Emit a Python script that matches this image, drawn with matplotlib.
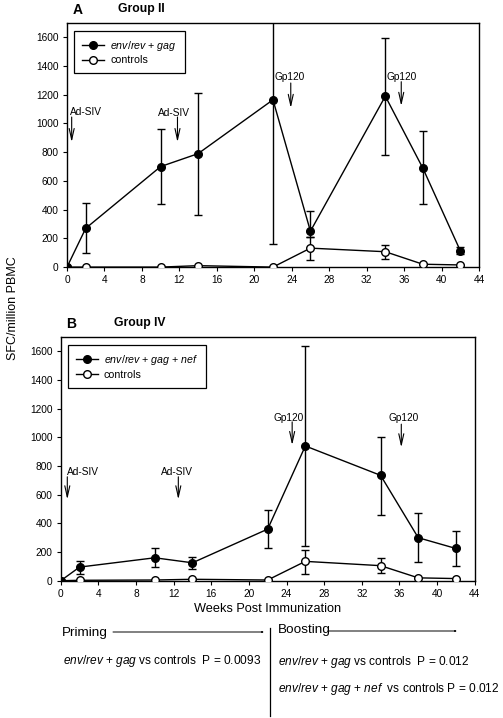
import matplotlib

matplotlib.use("Agg")
import matplotlib.pyplot as plt
from matplotlib.lines import Line2D
from matplotlib.patches import FancyArrowPatch
import numpy as np

plt.rcParams["font.family"] = ["Liberation Sans", "DejaVu Sans"]
plt.rcParams["mathtext.fontset"] = "custom"
plt.rcParams["mathtext.it"] = "Liberation Sans:italic"
plt.rcParams["mathtext.rm"] = "Liberation Sans"

# --- data -----------------------------------------------------------------
weeks = [0, 2, 10, 14, 22, 26, 34, 38, 42]

# Group II
g2_vax = [0, 270, 700, 790, 1165, 250, 1190, 690, 115]
g2_vax_lo = [0, 95, 440, 365, 160, 213, 780, 440, 90]
g2_vax_hi = [0, 445, 960, 1215, 2300, 388, 1595, 945, 142]
g2_ctl = [0, 0, 0, 10, 0, 132, 107, 20, 15]
g2_ctl_lo = [0, 0, 0, 10, 0, 50, 55, 20, 15]
g2_ctl_hi = [0, 0, 0, 10, 0, 213, 155, 20, 15]

# Group IV
g4_vax = [0, 95, 160, 125, 360, 940, 735, 300, 225]
g4_vax_lo = [0, 50, 95, 85, 225, 240, 455, 130, 100]
g4_vax_hi = [0, 135, 225, 165, 490, 1635, 1005, 470, 350]
g4_ctl = [0, 3, 5, 10, 5, 135, 105, 20, 15]
g4_ctl_lo = [0, 3, 5, 10, 5, 50, 55, 20, 15]
g4_ctl_hi = [0, 3, 5, 10, 5, 215, 160, 20, 15]

event_labels = ["Ad-SIV", "Ad-SIV", "Gp120", "Gp120"]
g2_event_weeks = [0.5, 11.8, 23.9, 35.7]
g4_event_weeks = [0.7, 12.5, 24.6, 36.2]

FS = 7.3


def panel(ax, vax, vlo, vhi, ctl, clo, chi, vax_label):
    vax = np.asarray(vax, float)
    ctl = np.asarray(ctl, float)
    verr = [vax - np.asarray(vlo), np.asarray(vhi) - vax]
    cerr = [ctl - np.asarray(clo), np.asarray(chi) - ctl]
    ax.errorbar(weeks, ctl, yerr=cerr, fmt="-o", color="black", mfc="white",
                mec="black", ms=5.5, lw=1.0, elinewidth=1.0, capsize=3,
                capthick=1.0, zorder=3)
    ax.errorbar(weeks, vax, yerr=verr, fmt="-o", color="black", mfc="black",
                ms=5.5, lw=1.0, elinewidth=1.0, capsize=3, capthick=1.0,
                zorder=4)
    ax.set_xlim(0, 44)
    ax.set_ylim(0, 1700)
    ax.set_xticks(np.arange(0, 45, 4))
    ax.set_yticks(np.arange(0, 1601, 200))
    ax.tick_params(direction="out", length=3, labelsize=FS, width=0.8, pad=3)
    for s in ax.spines.values():
        s.set_linewidth(1.0)
    handles = [
        Line2D([], [], color="black", marker="o", mfc="black", ms=5.5, lw=1.0),
        Line2D([], [], color="black", marker="o", mfc="white", ms=5.5, lw=1.0),
    ]
    leg = ax.legend(handles, [vax_label, "controls"], loc="upper left",
                    fontsize=7.7, fancybox=False, edgecolor="black",
                    framealpha=1, handlelength=2.0, handletextpad=0.6,
                    borderpad=0.75, labelspacing=0.25,
                    bbox_to_anchor=(0.005, 0.99))
    leg.get_frame().set_linewidth(0.9)


def events(ax, xs, text_x, text_y, tails, tips, has):
    for lab, w, tx, ty, yt, yp, ha in zip(event_labels, xs, text_x, text_y,
                                          tails, tips, has):
        ax.text(tx, ty, lab, fontsize=FS, ha=ha, va="center")
        ax.annotate("", xy=(w, yp), xytext=(w, yt),
                    arrowprops=dict(arrowstyle="->,head_length=0.8,head_width=0.18",
                                    lw=0.8, color="black", shrinkA=0, shrinkB=0))


fig = plt.figure(figsize=(5.03, 7.18), dpi=100)

vax2 = r"$\it{env/rev}$ + $\it{gag}$"
vax4 = r"$\it{env/rev}$ + $\it{gag}$ + $\it{nef}$"

ax1 = fig.add_axes([0.1332, 0.628, 0.819, 0.340])
panel(ax1, g2_vax, g2_vax_lo, g2_vax_hi, g2_ctl, g2_ctl_lo, g2_ctl_hi, vax2)
events(ax1, g2_event_weeks,
       [0.3, 11.4, 23.76, 35.7], [1078, 1075, 1322, 1327],
       [1045, 1045, 1282, 1291], [870, 870, 1108, 1122],
       ["left", "center", "center", "center"])

ax2 = fig.add_axes([0.1207, 0.1912, 0.823, 0.3394])
panel(ax2, g4_vax, g4_vax_lo, g4_vax_hi, g4_ctl, g4_ctl_lo, g4_ctl_hi, vax4)
events(ax2, g4_event_weeks,
       [0.64, 12.41, 24.19, 36.45], [760, 760, 1134, 1132],
       [725, 725, 1108, 1092], [567, 567, 946, 930],
       ["left", "center", "center", "center"])
ax2.set_xlabel("Weeks Post Immunization", fontsize=9.2, labelpad=3)

# panel titles
fig.text(73 / 503, 1 - 10 / 718, "A", fontsize=10, fontweight="bold", va="center")
fig.text(118 / 503, 1 - 9 / 718, "Group II", fontsize=8.7, fontweight="bold", va="center")
fig.text(66 / 503, 1 - 324 / 718, "B", fontsize=10, fontweight="bold", va="center")
fig.text(114 / 503, 1 - 323 / 718, "Group IV", fontsize=8.7, fontweight="bold", va="center")

fig.text(13 / 503, 1 - 308 / 718, "SFC/million PBMC", fontsize=9,
         rotation=90, ha="center", va="center")


# priming / boosting footer
def fy(py):
    return 1 - py / 718


def fx(px):
    return px / 503


fig.text(fx(62), fy(633), "Priming", fontsize=9.7, va="center")
fig.text(fx(278), fy(630), "Boosting", fontsize=9.7, va="center")
arrow = dict(arrowstyle="->,head_length=0.9,head_width=0.2", lw=0.7, color="black",
             shrinkA=0, shrinkB=0)
fig.add_artist(FancyArrowPatch((fx(113), fy(632)), (fx(265), fy(632)),
                               transform=fig.transFigure, **arrow))
fig.add_artist(FancyArrowPatch((fx(328), fy(631)), (fx(458), fy(631)),
                               transform=fig.transFigure, **arrow))
fig.add_artist(Line2D([fx(270), fx(270)], [fy(628), fy(716)], color="black",
                      lw=0.9, transform=fig.transFigure))

fig.text(fx(63), fy(661), vax2 + " vs controls  P = 0.0093", fontsize=8.6, va="center")
fig.text(fx(278), fy(662), vax2 + " vs controls  P = 0.012", fontsize=8.6, va="center")
fig.text(fx(278), fy(689), vax4 + "  vs controls P = 0.012", fontsize=8.6, va="center")

fig.savefig("out.png", dpi=100)
